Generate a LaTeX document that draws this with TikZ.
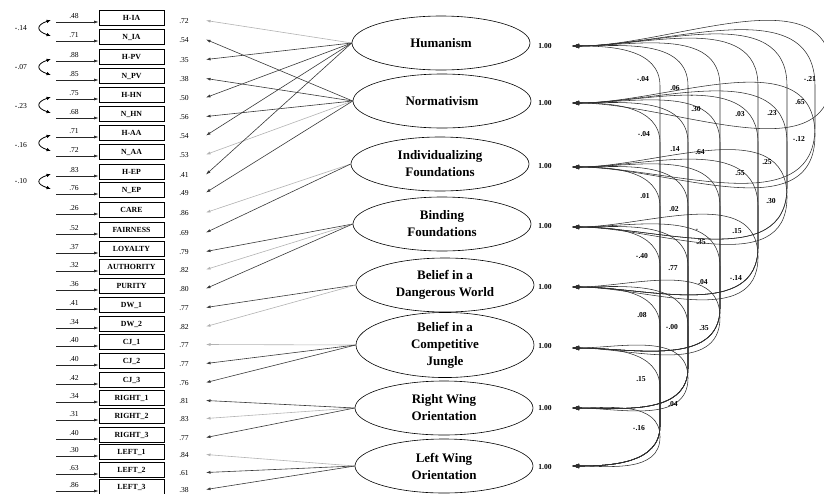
\documentclass[tikz,border=0pt]{standalone}
\usepackage{fontspec}
\setmainfont{Liberation Serif}
\usetikzlibrary{arrows.meta,shapes.geometric}
\begin{document}
\begin{tikzpicture}[x=1pt,y=-1pt,
  obsbox/.style={draw, line width=0.9pt, minimum width=65pt, minimum height=15.5pt, inner sep=0pt,
    font=\fontsize{7.8}{8}\selectfont\bfseries},
  latent/.style={draw, ellipse, line width=0.6pt, minimum width=178pt, minimum height=54pt, inner sep=0pt,
    align=center, font=\fontsize{13}{17}\selectfont\bfseries},
  num/.style={font=\fontsize{7.6}{8}\selectfont, inner sep=0pt},
  cnum/.style={font=\fontsize{7.6}{8}\selectfont\bfseries, inner sep=0pt},
  errarr/.style={-{Latex[length=4.5pt,width=3pt]}, line width=0.6pt, black!85},
  loadd/.style={-{Latex[length=4.5pt,width=3pt]}, line width=0.6pt, black!78},
  loadl/.style={-{Latex[length=4.5pt,width=3pt]}, line width=0.6pt, black!30},
  covarr/.style={{Latex[length=7pt,width=4.5pt]}-{Latex[length=7pt,width=4.5pt]}, line width=0.55pt, black!82},
  ecov/.style={{Latex[length=4.5pt,width=3.5pt]}-{Latex[length=4.5pt,width=3.5pt]}, line width=0.8pt},
]
\useasboundingbox (0,0) rectangle (824,493);

% latent factors
\node[latent] (hum) at (441,43)  {Humanism};
\node[latent] (nor) at (442,101) {Normativism};
\node[latent] (ifd) at (440,164) {Individualizing\\Foundations};
\node[latent] (bfd) at (442,224) {Binding\\Foundations};
\node[latent] (bdw) at (445,285) {Belief in a\\Dangerous World};
\node[latent] (cjg) at (445,345) {Belief in a\\Competitive\\Jungle};
\node[latent] (rwo) at (444,408) {Right Wing\\Orientation};
\node[latent] (lwo) at (444,466) {Left Wing\\Orientation};

% factor variances
\foreach \f/\y in {hum/46,nor/103,ifd/166,bfd/226,bdw/287,cjg/346,rwo/408,lwo/467}
  \node[cnum] (v\f) at (545,\y) {1.00};

% observed indicators: index/label/y/error weight/loading/factor/style
\foreach \i/\lab/\y/\e/\l/\f/\s in {
  0/H-IA/18/.48/.72/hum/loadl,
  1/N\_IA/37/.71/.54/nor/loadd,
  2/H-PV/57/.88/.35/hum/loadd,
  3/N\_PV/76/.85/.38/nor/loadd,
  4/H-HN/95/.75/.50/hum/loadd,
  5/N\_HN/114/.68/.56/nor/loadd,
  6/H-AA/133/.71/.54/hum/loadd,
  7/N\_AA/152/.72/.53/nor/loadl,
  8/H-EP/172/.83/.41/hum/loadd,
  9/N\_EP/190/.76/.49/nor/loadd,
  10/CARE/210/.26/.86/ifd/loadl,
  11/FAIRNESS/230/.52/.69/ifd/loadd,
  12/LOYALTY/249/.37/.79/bfd/loadd,
  13/AUTHORITY/267/.32/.82/bfd/loadl,
  14/PURITY/286/.36/.80/bfd/loadd,
  15/DW\_1/305/.41/.77/bdw/loadd,
  16/DW\_2/324/.34/.82/bdw/loadl,
  17/CJ\_1/342/.40/.77/cjg/loadl,
  18/CJ\_2/361/.40/.77/cjg/loadd,
  19/CJ\_3/380/.42/.76/cjg/loadd,
  20/RIGHT\_1/398/.34/.81/rwo/loadd,
  21/RIGHT\_2/416/.31/.83/rwo/loadl,
  22/RIGHT\_3/435/.40/.77/rwo/loadd,
  23/LEFT\_1/452/.30/.84/lwo/loadl,
  24/LEFT\_2/470/.63/.61/lwo/loadd,
  25/LEFT\_3/487/.86/.38/lwo/loadd} {
  \node[obsbox] (b\i) at (131.5,\y) {\lab};
  \coordinate (s\i) at (56,\y+4);
  \draw[errarr] (s\i) -- (b\i.west |- s\i);
  \node[num] (en\i) at (74,\y-2) {\e};
  \coordinate (t\i) at (206,\y+2.5);
  \draw[\s] (\f.west) -- (t\i);
  \node[num] (ln\i) at (184,\y+3.5) {\l};
}

% correlated errors of paired items
\foreach \a/\b/\ya/\yb/\ly/\t in {0/1/18/37/28/-.14, 2/3/57/76/67/-.07, 4/5/95/114/106/-.23,
    6/7/133/152/145/-.16, 8/9/172/190/181/-.10} {
  \coordinate (p\a) at (51,\ya+2);
  \coordinate (p\b) at (51,\yb-1);
  \draw[ecov] (p\a) .. controls (36,\ya+7) and (36,\yb-6) .. (p\b);
  \node[num] (ec\a) at (21,\ly) {\t};
}

% anchor points of the factor covariances
\foreach \k/\y in {1/46,2/103,3/167,4/227,5/287,6/348,7/408,8/466}
  \coordinate (c\k) at (572,\y);

% factor covariances: source/target/source y/target y/outer x
\foreach \a/\b/\ya/\yb/\xb in {
  1/2/46/103/832, 1/3/46/167/815, 1/4/46/227/787, 1/5/46/287/758,
  1/6/46/348/720, 1/7/46/408/688, 1/8/46/466/660,
  2/3/103/167/815, 2/4/103/227/787, 2/5/103/287/758, 2/6/103/348/720,
  2/7/103/408/688, 2/8/103/466/660,
  3/4/167/227/787, 3/5/167/287/758, 3/6/167/348/720, 3/7/167/408/688, 3/8/167/466/660,
  4/5/227/287/758, 4/6/227/348/720, 4/7/227/408/688, 4/8/227/466/660,
  5/6/287/348/720, 5/7/287/408/688, 5/8/287/466/660,
  6/7/348/408/688, 6/8/348/466/660,
  7/8/408/466/660} {
  \pgfmathsetmacro\rr{min(40,(\yb-\ya)/2)}
  \draw[covarr] (c\a) to[out=0,in=90] (\xb,\ya+\rr) -- (\xb,\yb-\rr) to[out=-90,in=0] (c\b);
}

% covariance estimates
\foreach \n/\px/\py/\t in {
  1/643/79/-.04, 2/675/88/.06, 3/696/109/.30, 4/740/114/.03, 5/772/113/.23,
  6/810/79/-.21, 7/800/102/.65,
  8/644/134/-.04, 9/675/149/.14, 10/700/152/.64, 11/740/173/.55, 12/767/162/.25, 13/799/139/-.12,
  14/645/196/.01, 15/674/209/.02, 16/701/242/.35, 17/737/231/.15, 18/771/201/.30,
  19/642/256/-.40, 20/673/268/.77, 21/703/282/.04, 22/736/278/-.14,
  23/642/315/.08, 24/672/327/-.00, 25/704/328/.35,
  26/641/379/.15, 27/673/404/.04,
  28/639/428/-.16}
  \node[cnum] (cv\n) at (\px,\py) {\t};
\node[cnum] (cv3m) at (692,96) {-};
\node[cnum] (cv16m) at (697,230) {-};
\end{tikzpicture}
\end{document}
